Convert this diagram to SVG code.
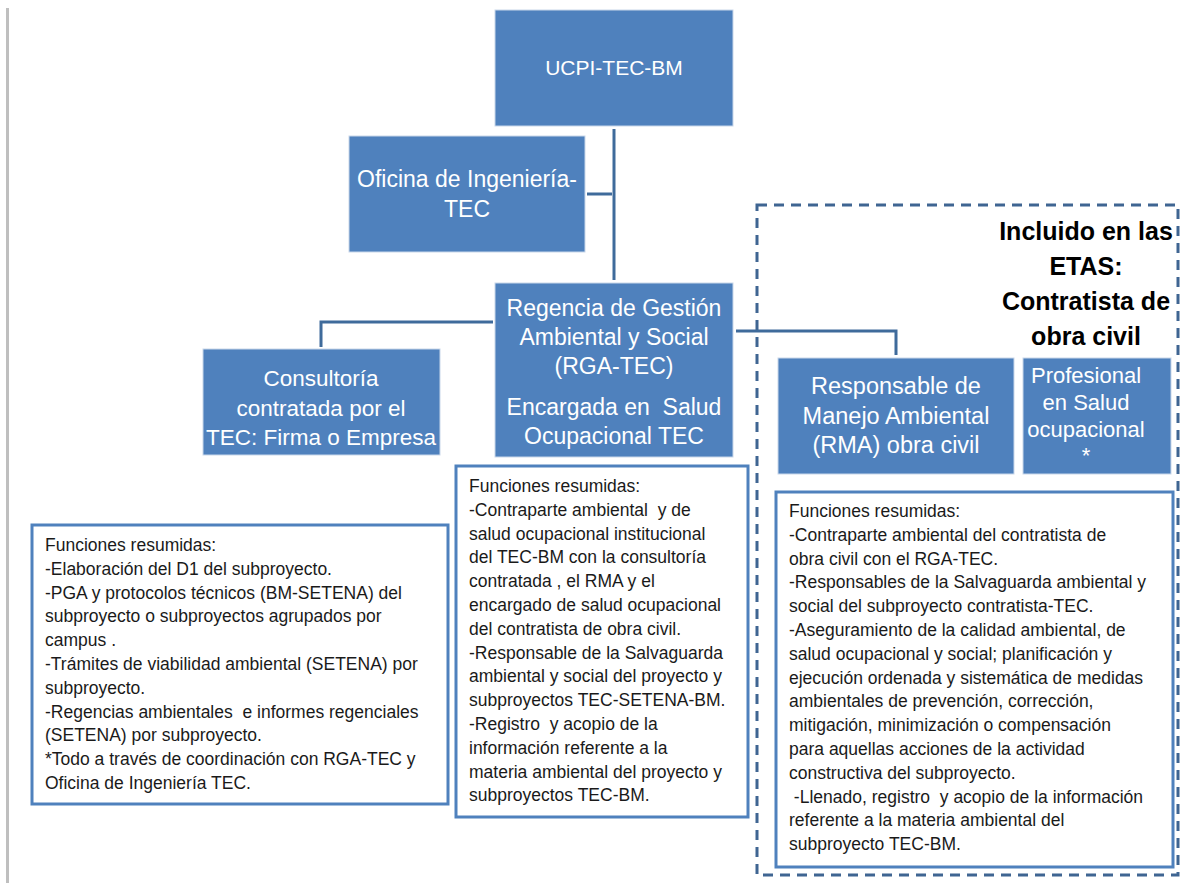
<svg xmlns="http://www.w3.org/2000/svg" width="1181" height="886" viewBox="0 0 1181 886">
<style>
.box{fill:#4f81bd;stroke:#c9d7ea;stroke-width:1}
.bt{font-family:"Liberation Sans",Arial,sans-serif;fill:#ffffff;text-anchor:middle}
.note{fill:#ffffff;stroke:#4f81bd;stroke-width:3}
.nt{font-family:"Liberation Sans",Arial,sans-serif;font-size:17.5px;fill:#1a1a1a}
.con{fill:none;stroke:#3f6b9b;stroke-width:3}
.title{font-family:"Liberation Sans",Arial,sans-serif;font-size:25px;font-weight:bold;fill:#000000;text-anchor:middle}
</style>
<rect width="1181" height="886" fill="#ffffff"/>
<line x1="7.5" y1="8" x2="7.5" y2="883" stroke="#bfbfbf" stroke-width="3"/>

<g id="connectors">
<line class="con" x1="614" y1="129" x2="614" y2="280" stroke-width="4"/>
<line class="con" x1="587" y1="194" x2="612" y2="194" stroke="#4a78a8" stroke-width="2.5"/>
<path class="con" d="M321 347 V322 H493"/>
<path class="con" d="M736 331 H896 V355"/>
</g>

<g id="etas-group">
<rect x="757" y="205" width="421" height="670" fill="none" stroke="#3f6592" stroke-width="3" stroke-dasharray="10 7"/>
<text class="title"><tspan x="1086" y="240">Incluido en las</tspan><tspan x="1086" y="275">ETAS:</tspan><tspan x="1086" y="310">Contratista de</tspan><tspan x="1086" y="345">obra civil</tspan></text>
</g>

<g id="ucpi">
<rect class="box" x="495" y="10" width="238" height="116"/>
<text class="bt" font-size="21" x="614" y="75">UCPI-TEC-BM</text>
</g>

<g id="oficina">
<rect class="box" x="349" y="136" width="236" height="116"/>
<text class="bt" font-size="23"><tspan x="467" y="187">Oficina de Ingeniería-</tspan><tspan x="467" y="217">TEC</tspan></text>
</g>

<g id="regencia">
<rect class="box" x="495" y="283" width="238" height="174"/>
<text class="bt" font-size="23"><tspan x="614" y="316">Regencia de Gestión</tspan><tspan x="614" y="345">Ambiental y Social</tspan><tspan x="614" y="374">(RGA-TEC)</tspan><tspan x="614" y="415" xml:space="preserve">Encargada en  Salud</tspan><tspan x="614" y="444">Ocupacional TEC</tspan></text>
</g>

<g id="consultoria">
<rect class="box" x="203" y="349" width="237" height="106"/>
<text class="bt" font-size="22.5"><tspan x="321" y="386">Consultoría</tspan><tspan x="321" y="416">contratada por el</tspan><tspan x="321" y="445">TEC: Firma o Empresa</tspan></text>
</g>

<g id="rma">
<rect class="box" x="778" y="358" width="236" height="116"/>
<text class="bt" font-size="23.5"><tspan x="896" y="394">Responsable de</tspan><tspan x="896" y="423.5">Manejo Ambiental</tspan><tspan x="896" y="453">(RMA) obra civil</tspan></text>
</g>

<g id="profesional">
<rect class="box" x="1023" y="358" width="148" height="116"/>
<text class="bt" font-size="22"><tspan x="1086" y="383">Profesional</tspan><tspan x="1086" y="410">en Salud</tspan><tspan x="1086" y="437">ocupacional</tspan><tspan x="1086" y="463">*</tspan></text>
</g>

<g id="funciones-consultoria">
<rect class="note" x="32" y="525" width="416" height="279"/>
<text class="nt">
<tspan x="45" y="551">Funciones resumidas:</tspan>
<tspan x="45" y="574.8">-Elaboración del D1 del subproyecto.</tspan>
<tspan x="45" y="598.6">-PGA y protocolos técnicos (BM-SETENA) del</tspan>
<tspan x="45" y="622.4">subproyecto o subproyectos agrupados por</tspan>
<tspan x="45" y="646.2">campus .</tspan>
<tspan x="45" y="670">-Trámites de viabilidad ambiental (SETENA) por</tspan>
<tspan x="45" y="693.8">subproyecto.</tspan>
<tspan x="45" y="717.6" xml:space="preserve">-Regencias ambientales  e informes regenciales</tspan>
<tspan x="45" y="741.4">(SETENA) por subproyecto.</tspan>
<tspan x="45" y="765.2">*Todo a través de coordinación con RGA-TEC y</tspan>
<tspan x="45" y="789">Oficina de Ingeniería TEC.</tspan>
</text>
</g>

<g id="funciones-rga">
<rect class="note" x="456" y="466" width="292" height="351"/>
<text class="nt">
<tspan x="469" y="492">Funciones resumidas:</tspan>
<tspan x="469" y="515.8" xml:space="preserve">-Contraparte ambiental  y de</tspan>
<tspan x="469" y="539.6">salud ocupacional institucional</tspan>
<tspan x="469" y="563.4">del TEC-BM con la consultoría</tspan>
<tspan x="469" y="587.2">contratada , el RMA y el</tspan>
<tspan x="469" y="611">encargado de salud ocupacional</tspan>
<tspan x="469" y="634.8">del contratista de obra civil.</tspan>
<tspan x="469" y="658.6">-Responsable de la Salvaguarda</tspan>
<tspan x="469" y="682.4">ambiental y social del proyecto y</tspan>
<tspan x="469" y="706.2">subproyectos TEC-SETENA-BM.</tspan>
<tspan x="469" y="730" xml:space="preserve">-Registro  y acopio de la</tspan>
<tspan x="469" y="753.8">información referente a la</tspan>
<tspan x="469" y="777.6">materia ambiental del proyecto y</tspan>
<tspan x="469" y="801.4">subproyectos TEC-BM.</tspan>
</text>
</g>

<g id="funciones-rma">
<rect class="note" x="776" y="492" width="397" height="375"/>
<text class="nt">
<tspan x="789" y="517">Funciones resumidas:</tspan>
<tspan x="789" y="540.8">-Contraparte ambiental del contratista de</tspan>
<tspan x="789" y="564.6">obra civil con el RGA-TEC.</tspan>
<tspan x="789" y="588.4">-Responsables de la Salvaguarda ambiental y</tspan>
<tspan x="789" y="612.2">social del subproyecto contratista-TEC.</tspan>
<tspan x="789" y="636">-Aseguramiento de la calidad ambiental, de</tspan>
<tspan x="789" y="659.8">salud ocupacional y social; planificación y</tspan>
<tspan x="789" y="683.6">ejecución ordenada y sistemática de medidas</tspan>
<tspan x="789" y="707.4">ambientales de prevención, corrección,</tspan>
<tspan x="789" y="731.2">mitigación, minimización o compensación</tspan>
<tspan x="789" y="755">para aquellas acciones de la actividad</tspan>
<tspan x="789" y="778.8">constructiva del subproyecto.</tspan>
<tspan x="789" y="802.6" xml:space="preserve"> -Llenado, registro  y acopio de la información</tspan>
<tspan x="789" y="826.4">referente a la materia ambiental del</tspan>
<tspan x="789" y="850.2">subproyecto TEC-BM.</tspan>
</text>
</g>
</svg>
